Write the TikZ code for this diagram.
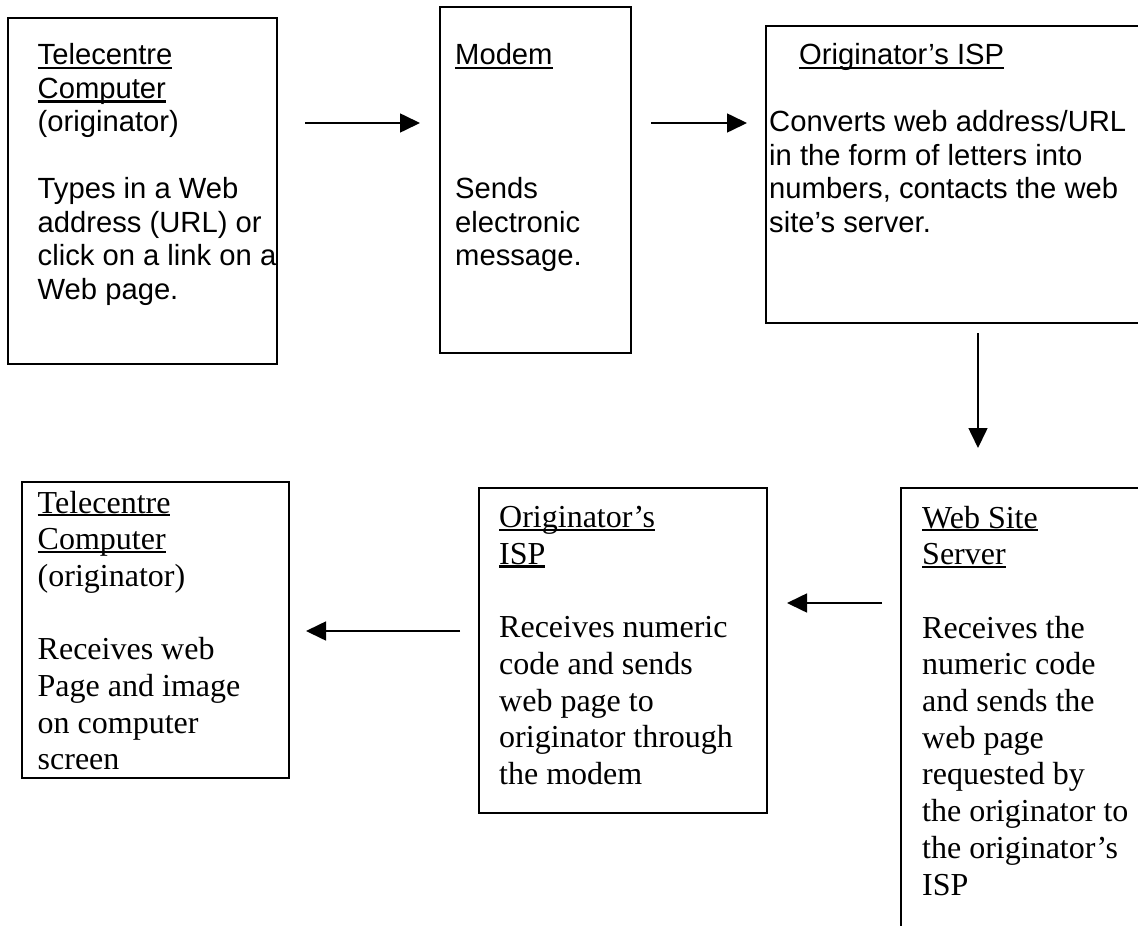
\documentclass[tikz,border=0pt]{standalone}
\usepackage{fontspec}
\setmainfont{Liberation Serif}
\newfontfamily\arialf{Liberation Sans}
\usetikzlibrary{arrows.meta}
\newcommand\ulsans[1]{\setbox0\hbox{#1}\rlap{\rule[-4.8pt]{\wd0}{2.6pt}}\box0}
\newcommand\ulserif[1]{\setbox0\hbox{#1}\rlap{\rule[-3.4pt]{\wd0}{2.2pt}}\box0}
\tikzset{
  box/.style={draw=black, line width=1.8pt, rectangle, anchor=north west, inner sep=0pt, outer sep=0pt},
  sanstext/.style={font=\arialf\fontsize{29.2}{33.5}\selectfont, align=left, inner sep=0pt, anchor=base west},
  seriftext/.style={font=\rmfamily\fontsize{32}{36.7}\selectfont, align=left, inner sep=0pt, anchor=base west},
  arr/.style={line width=1.6pt, -{Triangle[length=20pt,width=19pt]}}
}
\begin{document}
\begin{tikzpicture}[x=1pt,y=-1pt]
\useasboundingbox (0,0) rectangle (1138,926);
\fill[white] (0,0) rectangle (1138,926);

% boxes
\node[box, minimum width=269pt, minimum height=346pt] (b1) at (8,18) {};
\node[box, minimum width=191pt, minimum height=346pt] (b2) at (440,7) {};
\node[box, minimum width=384pt, minimum height=297pt] (b3) at (766,26) {};
\node[box, minimum width=267pt, minimum height=296pt] (b4) at (22,482) {};
\node[box, minimum width=288pt, minimum height=325pt] (b5) at (479,488) {};
\node[box, minimum width=249pt, minimum height=452pt] (b6) at (901,488) {};

% texts (anchor = baseline of the last line)
\node[sanstext] (t1) at (37.5,299) {\ulsans{Telecentre}\\\ulsans{Computer}\\(originator)\\[33.5pt]Types in a Web\\address (URL) or\\click on a link on a\\Web page.};
\node[sanstext] (t2) at (455,265.5) {\ulsans{Modem}\\[100.5pt]Sends\\electronic\\message.};
\node[sanstext] (t3a) at (799,64.5) {\ulsans{Originator’s ISP}};
\node[sanstext] (t3b) at (769,232) {Converts web address/URL\\in the form of letters into\\numbers, contacts the web\\site’s server.};
\node[seriftext] (t4) at (37.5,769.9) {\ulserif{Telecentre}\\\ulserif{Computer}\\(originator)\\[36.7pt]Receives web\\Page and image\\on computer\\screen};
\node[seriftext] (t5) at (499,784.4) {\ulserif{Originator’s}\\\ulserif{ISP}\\[36.7pt]Receives numeric\\code and sends\\web page to\\originator through\\the modem};
\node[seriftext] (t6) at (922,895) {\ulserif{Web Site}\\\ulserif{Server}\\[36.7pt]Receives the\\numeric code\\and sends the\\web page\\requested by\\the originator to\\the originator’s\\ISP};

% connectors
\coordinate (ytop) at (0,123);
\coordinate (xdown) at (978,0);
\coordinate (ya) at (0,603);
\coordinate (yb) at (0,631);
\draw[arr, shorten <=28pt, shorten >=20pt] (b1.east |- ytop) -- (b2.west |- ytop);
\draw[arr, shorten <=20pt, shorten >=19pt] (b2.east |- ytop) -- (b3.west |- ytop);
\draw[arr, shorten <=10pt, shorten >=40pt] (b3.south -| xdown) -- (b6.north -| xdown);
\draw[arr, shorten <=19pt, shorten >=20pt] (b6.west |- ya) -- (b5.east |- ya);
\draw[arr, shorten <=19pt, shorten >=17pt] (b5.west |- yb) -- (b4.east |- yb);
\end{tikzpicture}
\end{document}
